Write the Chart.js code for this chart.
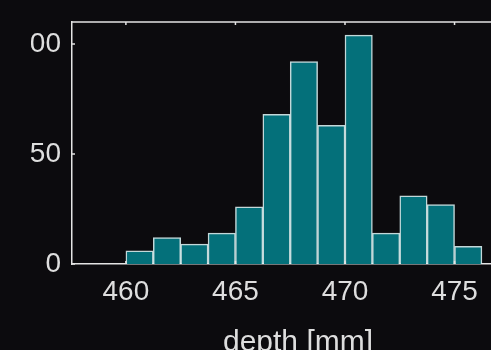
<!DOCTYPE html>
<html>
<head>
<meta charset="utf-8">
<script src="https://cdn.jsdelivr.net/npm/chart.js@4"></script>
<style>
    html, body { margin: 0; padding: 0; background: #0c0b0e; overflow: hidden; }
    #clip { position: absolute; left: 31px; top: 0; width: 460px; height: 350px; overflow: hidden; }
    #wrap { position: absolute; left: -31px; top: 0; width: 540px; height: 380px; }
</style>
</head>
<body>
<div id="clip"><div id="wrap"><canvas id="hist"></canvas></div></div>
<script>
// bin left edges (mm) and counts
const binEdges = [460, 461.25, 462.5, 463.75, 465, 466.25, 467.5, 468.75, 470, 471.25, 472.5, 473.75, 475];
const binWidth = 1.25;
const counts = [6, 12, 9, 14, 26, 68, 92, 63, 104, 14, 31, 27, 8];
const xTicks = [460, 465, 470, 475];
const yTicks = [0, 50, 100];

const textColor = '#dedede';
const axisColor = '#e4e4e4';

// top border and inward tick marks
const framePlugin = {
    id: 'frame',
    afterDatasetsDraw(chart) {
        const c = chart.ctx;
        const a = chart.chartArea;
        const xs = chart.scales.x, ys = chart.scales.y;
        c.save();
        c.strokeStyle = axisColor;
        c.lineWidth = 1.5;
        c.beginPath();
        c.moveTo(a.left, a.top);
        c.lineTo(a.right, a.top);
        xTicks.forEach(v => {
            const px = xs.getPixelForValue(v);
            c.moveTo(px, a.top); c.lineTo(px, a.top + 3);
            c.moveTo(px, a.bottom); c.lineTo(px, a.bottom - 3);
        });
        yTicks.forEach(v => {
            const py = ys.getPixelForValue(v);
            c.moveTo(a.left, py); c.lineTo(a.left + 3, py);
        });
        c.stroke();
        c.restore();
    }
};

new Chart(document.getElementById('hist'), {
    type: 'bar',
    data: {
        datasets: [{
            data: binEdges.map((e, i) => ({ x: e + binWidth / 2, y: counts[i] })),
            backgroundColor: '#04707a',
            borderColor: 'rgba(215,238,240,0.9)',
            borderWidth: 1.5,
            barPercentage: 1,
            categoryPercentage: 1
        }]
    },
    options: {
        responsive: true,
        maintainAspectRatio: false,
        animation: false,
        layout: { padding: { left: 0, right: 16, top: 22, bottom: 0 } },
        plugins: { legend: { display: false }, tooltip: { enabled: false } },
        scales: {
            x: {
                type: 'linear',
                offset: false,
                min: 457.54,
                max: 478.17,
                afterBuildTicks: s => { s.ticks = xTicks.map(v => ({ value: v })); },
                afterFit: s => { s.height = 116; s.paddingLeft = 0; s.paddingRight = 0; },
                grid: { display: false, drawTicks: false },
                border: { display: true, color: axisColor, width: 1.5 },
                ticks: { color: textColor, padding: 11, font: { family: 'Liberation Sans', size: 28 } },
                title: {
                    display: true,
                    text: 'depth [mm]',
                    color: textColor,
                    padding: { top: 0, bottom: 19 },
                    font: { family: 'Liberation Sans', size: 30 }
                }
            },
            y: {
                min: 0,
                max: 110,
                afterBuildTicks: s => { s.ticks = yTicks.map(v => ({ value: v })); },
                afterFit: s => { s.width = 72; s.paddingTop = 0; s.paddingBottom = 0; },
                grid: { display: false, drawTicks: false },
                border: { display: true, color: axisColor, width: 1.5 },
                ticks: { color: textColor, padding: 11, font: { family: 'Liberation Sans', size: 28 } }
            }
        }
    },
    plugins: [framePlugin]
});
</script>
</body>
</html>
